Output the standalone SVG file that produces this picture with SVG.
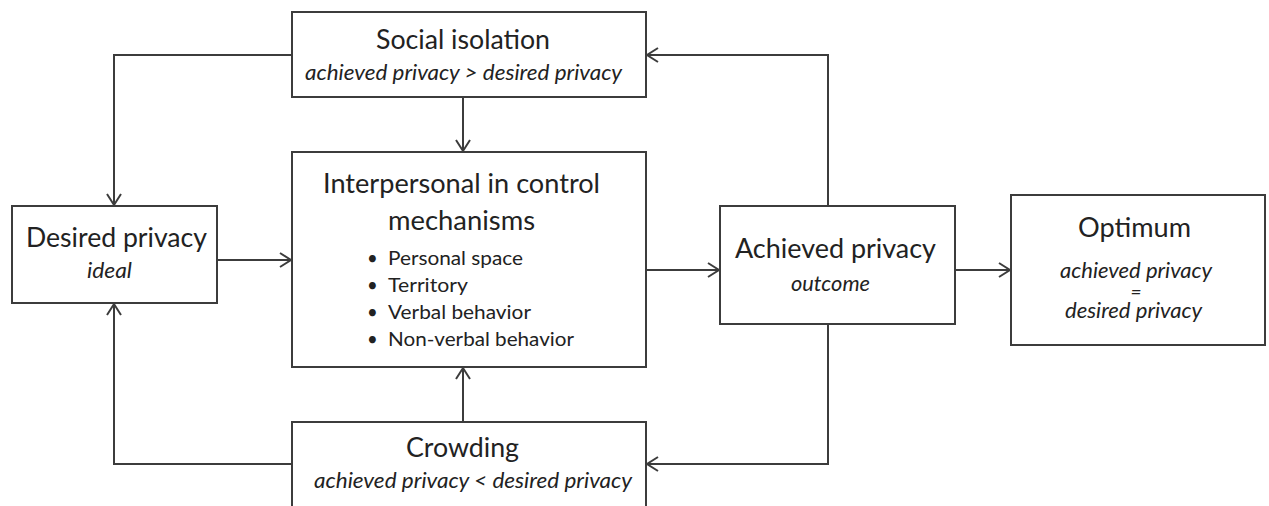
<svg xmlns="http://www.w3.org/2000/svg" width="1269" height="506" viewBox="0 0 1269 506">
<style>
.box{fill:#fff;stroke:#3c3c3c;stroke-width:2}
.con{fill:none;stroke:#3c3c3c;stroke-width:2;marker-end:url(#arr)}
text{font-family:Lato,"Open Sans","Liberation Sans",sans-serif;fill:#222}
.t{font-size:26px}
.i{font-size:22px;font-style:italic}
.b{font-size:18.5px}
.eq{font-size:19px;font-style:italic}
</style>
<defs>
<marker id="arr" markerUnits="userSpaceOnUse" markerWidth="24" markerHeight="24" refX="0" refY="0" viewBox="-14 -12 24 24" orient="auto" overflow="visible">
<path d="M-11,-7 L0,0 L-11,7" fill="none" stroke="#3c3c3c" stroke-width="2"/>
</marker>
</defs>
<rect width="1269" height="506" fill="#fff"/>
<g id="connectors">
<path class="con" d="M292,55 H114 V205"/>
<path class="con" d="M463,97 V151"/>
<path class="con" d="M217,260 H291"/>
<path class="con" d="M646,270 H719"/>
<path class="con" d="M828,206 V55 H647"/>
<path class="con" d="M955,270 H1010"/>
<path class="con" d="M828,324 V464 H647"/>
<path class="con" d="M463,422 V368"/>
<path class="con" d="M292,464 H114 V304"/>
</g>
<g id="social-isolation">
<rect class="box" x="292" y="12" width="354" height="85"/>
<text class="t" x="376" y="49" textLength="174" lengthAdjust="spacingAndGlyphs">Social isolation</text>
<text class="i" x="305" y="80" textLength="317" lengthAdjust="spacingAndGlyphs">achieved privacy &gt; desired privacy</text>
</g>
<g id="desired-privacy">
<rect class="box" x="12" y="206" width="205" height="97"/>
<text class="t" x="26" y="247" textLength="181" lengthAdjust="spacingAndGlyphs">Desired privacy</text>
<text class="i" x="87" y="278" textLength="45" lengthAdjust="spacingAndGlyphs">ideal</text>
</g>
<g id="interpersonal">
<rect class="box" x="292" y="152" width="354" height="215"/>
<text class="t" x="323" y="193" textLength="277" lengthAdjust="spacingAndGlyphs">Interpersonal in control</text>
<text class="t" x="388" y="230" textLength="147" lengthAdjust="spacingAndGlyphs">mechanisms</text>
<text class="b" x="367" y="265">•</text>
<text class="b" x="388" y="265" textLength="135" lengthAdjust="spacingAndGlyphs">Personal space</text>
<text class="b" x="367" y="292">•</text>
<text class="b" x="388" y="292" textLength="80" lengthAdjust="spacingAndGlyphs">Territory</text>
<text class="b" x="367" y="319">•</text>
<text class="b" x="388" y="319" textLength="143" lengthAdjust="spacingAndGlyphs">Verbal behavior</text>
<text class="b" x="367" y="346">•</text>
<text class="b" x="388" y="346" textLength="186" lengthAdjust="spacingAndGlyphs">Non-verbal behavior</text>
</g>
<g id="achieved-privacy">
<rect class="box" x="720" y="206" width="235" height="118"/>
<text class="t" x="735" y="258" textLength="201" lengthAdjust="spacingAndGlyphs">Achieved privacy</text>
<text class="i" x="791" y="291" textLength="79" lengthAdjust="spacingAndGlyphs">outcome</text>
</g>
<g id="optimum">
<rect class="box" x="1011" y="195" width="254" height="150"/>
<text class="t" x="1078" y="237" textLength="113" lengthAdjust="spacingAndGlyphs">Optimum</text>
<text class="i" x="1060" y="278" textLength="152" lengthAdjust="spacingAndGlyphs">achieved privacy</text>
<text class="eq" x="1136" y="299" text-anchor="middle">=</text>
<text class="i" x="1065" y="318" textLength="137" lengthAdjust="spacingAndGlyphs">desired privacy</text>
</g>
<g id="crowding">
<rect class="box" x="292" y="422" width="354" height="100"/>
<text class="t" x="406" y="457" textLength="113" lengthAdjust="spacingAndGlyphs">Crowding</text>
<text class="i" x="314" y="488" textLength="318" lengthAdjust="spacingAndGlyphs">achieved privacy &lt; desired privacy</text>
</g>
</svg>
